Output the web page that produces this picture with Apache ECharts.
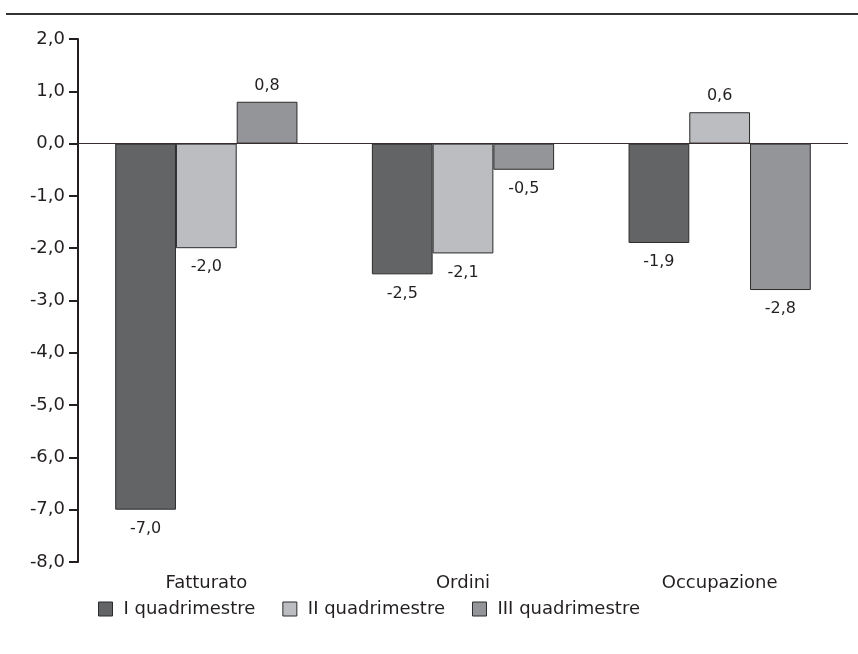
<!DOCTYPE html>
<html>
<head>
<meta charset="utf-8">
<style>
  html, body { margin: 0; padding: 0; background: #fff; }
  #chart { width: 858px; height: 654px; }
</style>
<script src="https://cdn.jsdelivr.net/npm/echarts@6/dist/echarts.min.js"></script>
</head>
<body>
<div id="chart"></div>
<script>
// Categories and four-month changes
const categories = ['Fatturato', 'Ordini', 'Occupazione'];
const seriesNames = ['I quadrimestre', 'II quadrimestre', 'III quadrimestre'];
const q1 = [-7.0, -2.5, -1.9];
const q2 = [-2.0, -2.1, 0.6];
const q3 = [0.8, -0.5, -2.8];
const yTicks = { min: -8, max: 2, step: 1 };

const colors = ['#636466', '#bcbdc0', '#939598'];
const textColor = '#231f20';
const fontFamily = '"DejaVu Sans", "Liberation Sans", Arial, sans-serif';

const fmt = v => v.toFixed(1).replace('.', ',');

function makeSeries(name, values, color, withZeroLine) {
  const s = {
    name: name,
    type: 'bar',
    barGap: '0%',
    barCategoryGap: '29%',
    itemStyle: { color: color, borderColor: '#2b2b2b', borderWidth: 1 },
    data: values.map(v => ({
      value: v,
      label: {
        show: true,
        position: v >= 0 ? 'top' : 'bottom',
        distance: v >= 0 ? 8 : 11,
        formatter: p => fmt(p.value),
        color: textColor,
        fontSize: 16,
        fontFamily: fontFamily
      }
    })),
    emphasis: { disabled: true }
  };
  if (withZeroLine) {
    s.markLine = {
      silent: true,
      symbol: 'none',
      label: { show: false },
      lineStyle: { color: '#3a2c2c', width: 1, type: 'solid' },
      data: [{ yAxis: 0 }]
    };
  }
  return s;
}

const chart = echarts.init(document.getElementById('chart'), null, { renderer: 'canvas' });
chart.setOption({
  animation: false,
  backgroundColor: '#ffffff',
  textStyle: { fontFamily: fontFamily, color: textColor },
  graphic: [{
    type: 'line',
    shape: { x1: 6, y1: 14, x2: 858, y2: 14 },
    style: { stroke: '#333333', lineWidth: 2 }
  }],
  grid: { left: 78, right: 10, top: 39, bottom: 92, containLabel: false },
  legend: {
    data: seriesNames,
    left: 93,
    top: 595,
    itemWidth: 14,
    itemHeight: 14,
    itemGap: 27,
    icon: 'rect',
    itemStyle: { borderColor: '#2b2b2b', borderWidth: 1 },
    textStyle: { fontSize: 18, color: textColor, fontFamily: fontFamily, padding: [0, 0, 0, 6] }
  },
  xAxis: {
    type: 'category',
    data: categories,
    axisLine: { show: false, onZero: false },
    axisTick: { show: false },
    axisLabel: { color: textColor, fontSize: 18, margin: 12, fontFamily: fontFamily }
  },
  yAxis: {
    type: 'value',
    min: yTicks.min,
    max: yTicks.max,
    interval: yTicks.step,
    splitLine: { show: false },
    axisLine: { show: true, lineStyle: { color: '#231f20', width: 2 } },
    axisTick: { show: true, length: 9, lineStyle: { color: '#231f20', width: 2 } },
    axisLabel: { color: textColor, fontSize: 18, margin: 13, formatter: v => fmt(v), fontFamily: fontFamily }
  },
  series: [
    makeSeries(seriesNames[0], q1, colors[0], true),
    makeSeries(seriesNames[1], q2, colors[1], false),
    makeSeries(seriesNames[2], q3, colors[2], false)
  ]
});
</script>
</body>
</html>
